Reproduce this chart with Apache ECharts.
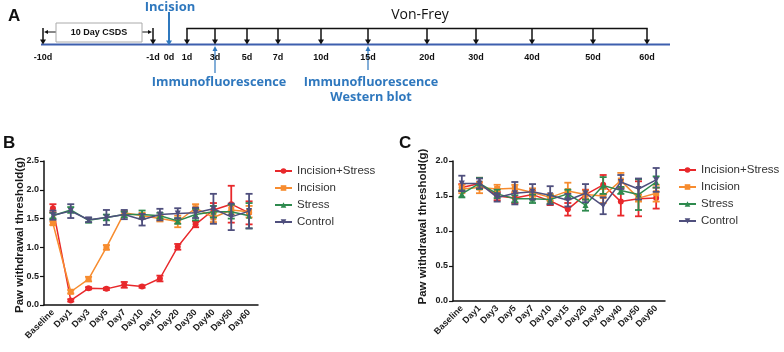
<!DOCTYPE html>
<html>
<head>
<meta charset="utf-8">
<title>Paw withdrawal threshold</title>
<script src="https://cdn.jsdelivr.net/npm/echarts@6/dist/echarts.min.js"></script>
<style>
html, body { margin: 0; padding: 0; background: #fff; }
#main { width: 784px; height: 352px; }
</style>
</head>
<body>
<div id="main"></div>
<script>
// time points on the x axis of B and C
var days = ['Baseline', 'Day1', 'Day3', 'Day5', 'Day7', 'Day10', 'Day15', 'Day20', 'Day30', 'Day40', 'Day50', 'Day60'];
var groups = ['Incision+Stress', 'Incision', 'Stress', 'Control'];

// panel B means / errors
var bIncStress = [1.68, 0.08, 0.29, 0.28, 0.35, 0.32, 0.46, 1.01, 1.40, 1.65, 1.75, 1.60];
var bIncStressErr = [0.07, 0.02, 0.02, 0.02, 0.05, 0.02, 0.05, 0.05, 0.05, 0.12, 0.32, 0.20];
var bInc = [1.42, 0.23, 0.45, 1.00, 1.60, 1.55, 1.50, 1.45, 1.68, 1.52, 1.65, 1.62];
var bIncErr = [0.03, 0.03, 0.04, 0.04, 0.03, 0.05, 0.05, 0.10, 0.07, 0.08, 0.08, 0.10];
var bStress = [1.55, 1.65, 1.47, 1.52, 1.57, 1.57, 1.55, 1.46, 1.57, 1.62, 1.62, 1.55];
var bStressErr = [0.05, 0.05, 0.04, 0.05, 0.05, 0.07, 0.05, 0.05, 0.10, 0.10, 0.12, 0.22];
var bControl = [1.56, 1.63, 1.48, 1.52, 1.57, 1.48, 1.57, 1.59, 1.60, 1.67, 1.53, 1.63];
var bControlErr = [0.08, 0.12, 0.04, 0.13, 0.08, 0.10, 0.10, 0.09, 0.09, 0.26, 0.23, 0.30];

// panel C means / errors
var cIncStress = [1.62, 1.68, 1.50, 1.47, 1.52, 1.43, 1.31, 1.52, 1.66, 1.42, 1.46, 1.47];
var cIncStressErr = [0.05, 0.08, 0.06, 0.07, 0.06, 0.06, 0.09, 0.07, 0.14, 0.20, 0.25, 0.15];
var cInc = [1.60, 1.62, 1.60, 1.61, 1.55, 1.48, 1.57, 1.52, 1.50, 1.72, 1.47, 1.54];
var cIncErr = [0.06, 0.08, 0.06, 0.05, 0.06, 0.05, 0.12, 0.06, 0.10, 0.11, 0.05, 0.12];
var cStress = [1.53, 1.68, 1.53, 1.46, 1.46, 1.45, 1.53, 1.37, 1.65, 1.58, 1.52, 1.70];
var cStressErr = [0.05, 0.08, 0.06, 0.05, 0.06, 0.06, 0.06, 0.08, 0.12, 0.05, 0.22, 0.08];
var cControl = [1.68, 1.68, 1.48, 1.54, 1.56, 1.51, 1.44, 1.54, 1.36, 1.70, 1.60, 1.73];
var cControlErr = [0.11, 0.07, 0.06, 0.16, 0.11, 0.13, 0.09, 0.13, 0.12, 0.10, 0.15, 0.17];

// panel A timeline labels
var timeLabels = ['-10d', '-1d', '0d', '1d', '3d', '5d', '7d', '10d', '15d', '20d', '30d', '40d', '50d', '60d'];
var vonFreyDays = ['1d', '3d', '5d', '7d', '10d', '15d', '20d', '30d', '40d', '50d', '60d'];

var colors = ['#e8282b', '#f78c2f', '#2e8a4e', '#4f4f7d'];
var symbols = ['circle', 'rect', 'triangle', 'path://M0,0 L10,0 L5,9 Z'];

// schematic x positions of the timeline marks (layout only)
var timeX = [43, 153, 169, 187, 215, 247, 278, 321, 368, 427, 476, 532, 593, 647];

(function () {
	var myChart = echarts.init(document.getElementById('main'));

	// error bar drawing with caps
	function errorItem(color) {
		return function (params, api) {
			var i = api.value(0);
			var top = api.coord([i, api.value(2)]);
			var bot = api.coord([i, api.value(1)]);
			var w = 3.5;
			var st = { stroke: color, lineWidth: 1.8 };
			return {
				type: 'group',
				children: [
					{ type: 'line', shape: { x1: top[0], y1: top[1], x2: bot[0], y2: bot[1] }, style: st },
					{ type: 'line', shape: { x1: top[0] - w, y1: top[1], x2: top[0] + w, y2: top[1] }, style: st },
					{ type: 'line', shape: { x1: bot[0] - w, y1: bot[1], x2: bot[0] + w, y2: bot[1] }, style: st }
				]
			};
		};
	}

	function errData(mean, err) {
		return mean.map(function (m, i) {
			return [i, +(m - err[i]).toFixed(3), +(m + err[i]).toFixed(3)];
		});
	}

	function panelSeries(gi, means, errs) {
		var out = [];
		for (var k = 0; k < groups.length; k++) {
			out.push({
				name: groups[k] + '_err' + gi,
				type: 'custom',
				xAxisIndex: gi,
				yAxisIndex: gi,
				renderItem: errorItem(colors[k]),
				encode: { x: 0, y: [1, 2] },
				data: errData(means[k], errs[k]),
				z: 2 + k
			});
			out.push({
				name: groups[k],
				type: 'line',
				xAxisIndex: gi,
				yAxisIndex: gi,
				data: means[k],
				symbol: symbols[k],
				symbolSize: 6,
				lineStyle: { color: colors[k], width: 1.5 },
				itemStyle: { color: colors[k] },
				z: 2 + k
			});
		}
		return out;
	}

	var labelFont = { fontSize: 9, fontWeight: 'bold', color: '#1a1a1a', fontFamily: 'Liberation Sans' };

	function xAxisCfg(gi) {
		return {
			type: 'category',
			gridIndex: gi,
			data: days,
			boundaryGap: true,
			axisLine: { lineStyle: { color: '#111', width: 1.5 } },
			axisTick: { alignWithLabel: true, length: 4, lineStyle: { color: '#111', width: 1.2 } },
			axisLabel: Object.assign({ rotate: 45, interval: 0, margin: 6 }, labelFont)
		};
	}

	function yAxisCfg(gi, max, gap, pad) {
		return {
			type: 'value',
			gridIndex: gi,
			min: 0,
			max: max,
			interval: 0.5,
			name: 'Paw withdrawal threshold(g)',
			nameLocation: 'middle',
			nameGap: gap,
			nameMoveOverlap: false,
			nameTextStyle: {
				fontSize: 11.5, fontWeight: 'bold', color: '#1a1a1a', fontFamily: 'Liberation Sans',
				padding: pad
			},
			axisLine: { show: true, lineStyle: { color: '#111', width: 1.5 } },
			axisTick: { show: true, length: 4, lineStyle: { color: '#111', width: 1.2 } },
			splitLine: { show: false },
			axisLabel: Object.assign({
				margin: 5,
				formatter: function (v) { return v.toFixed(1); }
			}, labelFont)
		};
	}

	// timeline graphic for panel A
	var g = [];
	var black = '#111';
	var blue = '#2f78be';
	var lineY = 44.5;
	function downArrow(x, y1, y2, color, w) {
		g.push({ type: 'line', shape: { x1: x, y1: y1, x2: x, y2: y2 - 4 }, style: { stroke: color, lineWidth: w } });
		g.push({ type: 'polygon', shape: { points: [[x - 3, y2 - 5], [x + 3, y2 - 5], [x, y2]] }, style: { fill: color } });
	}
	function upArrow(x, y1, y2, color) {
		g.push({ type: 'line', shape: { x1: x, y1: y1, x2: x, y2: y2 + 4 }, style: { stroke: color, lineWidth: 1.2 } });
		g.push({ type: 'polygon', shape: { points: [[x - 2.5, y2 + 5], [x + 2.5, y2 + 5], [x, y2]] }, style: { fill: color } });
	}
	function text(str, x, y, font, color, align) {
		g.push({
			type: 'text',
			x: x, y: y,
			style: { text: str, font: font, fill: color, textAlign: align || 'center', textVerticalAlign: 'middle' },
			z: 10
		});
	}

	// main blue time line
	g.push({ type: 'line', shape: { x1: 41, y1: lineY, x2: 670, y2: lineY }, style: { stroke: '#3d5fae', lineWidth: 2 } });
	// CSDS bracket
	downArrow(timeX[0], 28, lineY, black, 1.5);
	downArrow(timeX[1], 28, lineY, black, 1.5);
	g.push({ type: 'line', shape: { x1: 46, y1: 32, x2: 56, y2: 32 }, style: { stroke: black, lineWidth: 1 } });
	g.push({ type: 'polygon', shape: { points: [[44, 32], [48, 30], [48, 34]] }, style: { fill: black } });
	g.push({ type: 'line', shape: { x1: 142, y1: 32, x2: 150, y2: 32 }, style: { stroke: black, lineWidth: 1 } });
	g.push({ type: 'polygon', shape: { points: [[152, 32], [148, 30], [148, 34]] }, style: { fill: black } });
	g.push({ type: 'rect', shape: { x: 56, y: 23, width: 86, height: 19 }, style: { fill: '#fff', stroke: '#aaa', lineWidth: 1 } });
	text('10 Day CSDS', 99, 32.5, 'bold 9px "Liberation Sans"', black);
	// incision
	downArrow(timeX[2], 12, lineY + 1, blue, 2);
	text('Incision', 170, 7, 'bold 13px "Open Sans"', blue);
	// Von-Frey bracket
	var vfStart = timeX[timeLabels.indexOf(vonFreyDays[0])];
	var vfEnd = timeX[timeLabels.indexOf(vonFreyDays[vonFreyDays.length - 1])];
	g.push({ type: 'line', shape: { x1: vfStart - 0.7, y1: 28.5, x2: vfEnd + 0.7, y2: 28.5 }, style: { stroke: black, lineWidth: 1.5 } });
	vonFreyDays.forEach(function (d) {
		downArrow(timeX[timeLabels.indexOf(d)], 28.5, lineY, black, 1.5);
	});
	text('Von-Frey', 420, 15, '14px "Open Sans"', black);
	// day labels
	timeLabels.forEach(function (d, i) {
		text(d, timeX[i], 58, 'bold 9px "Liberation Sans"', black);
	});
	// sampling points
	upArrow(215, 73, 46, blue);
	text('Immunofluorescence', 219, 82, 'bold 12.7px "Open Sans"', blue);
	upArrow(368, 70, 46, blue);
	text('Immunofluorescence', 371, 82, 'bold 12.7px "Open Sans"', blue);
	text('Western blot', 371, 97, 'bold 12.7px "Open Sans"', blue);

	// panel letters
	text('A', 8, 16, 'bold 17px "Liberation Sans"', black, 'left');
	text('B', 3, 143, 'bold 17px "Liberation Sans"', black, 'left');
	text('C', 399, 143, 'bold 17px "Liberation Sans"', black, 'left');

	var legendCfg = {
		orient: 'vertical',
		padding: 0,
		itemWidth: 17,
		itemHeight: 7,
		itemGap: 5,
		textStyle: { fontSize: 11.5, color: '#333', fontFamily: 'Liberation Sans' },
		data: groups
	};

	var option = {
		animation: false,
		backgroundColor: '#fff',
		grid: [
			{ left: 44, top: 161, width: 214, height: 144 },
			{ left: 453, top: 161, width: 212, height: 140 }
		],
		legend: [
			Object.assign({ left: 274, top: 165 }, legendCfg),
			Object.assign({ left: 678, top: 164 }, legendCfg)
		],
		xAxis: [xAxisCfg(0), xAxisCfg(1)],
		yAxis: [yAxisCfg(0, 2.5, 18, [0, 4, 0, 0]), yAxisCfg(1, 2, 24, [0, 0, 0, 9])],
		series: panelSeries(0,
			[bIncStress, bInc, bStress, bControl],
			[bIncStressErr, bIncErr, bStressErr, bControlErr]
		).concat(panelSeries(1,
			[cIncStress, cInc, cStress, cControl],
			[cIncStressErr, cIncErr, cStressErr, cControlErr]
		)),
		graphic: { elements: g }
	};
	myChart.setOption(option);
	window.addEventListener('resize', function () {
		myChart.resize();
	});
})();
</script>
</body>
</html>
